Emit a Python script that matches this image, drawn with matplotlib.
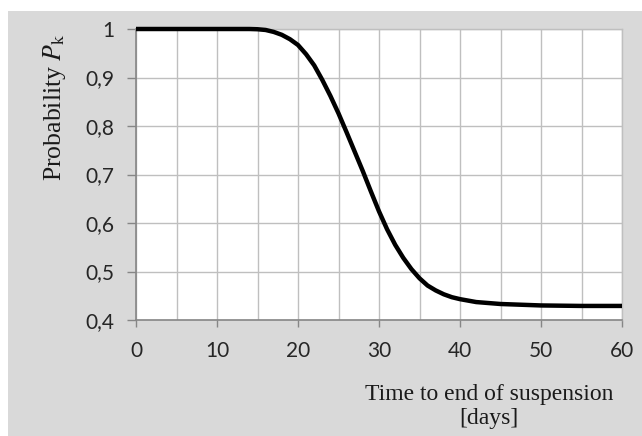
import numpy as np
import matplotlib.pyplot as plt
from matplotlib.patches import Rectangle
from matplotlib.ticker import FuncFormatter, MultipleLocator

# dane
days = [0, 5, 10, 14, 15, 16, 17, 18, 19, 20, 21, 22, 23, 24, 25, 26, 27, 28,
        29, 30, 31, 32, 33, 34, 35, 36, 37, 38, 39, 40, 42, 45, 50, 55, 60]
prob = [1.0, 1.0, 1.0, 1.0, 0.9995, 0.998, 0.994, 0.988, 0.979, 0.967, 0.948,
        0.925, 0.895, 0.862, 0.826, 0.787, 0.747, 0.707, 0.665, 0.624, 0.587,
        0.555, 0.528, 0.505, 0.486, 0.471, 0.461, 0.453, 0.447, 0.443, 0.437,
        0.433, 0.430, 0.429, 0.429]
x_ticks = [0, 10, 20, 30, 40, 50, 60]
y_ticks = [0.4, 0.5, 0.6, 0.7, 0.8, 0.9, 1.0]

plt.rcParams['mathtext.fontset'] = 'stix'

W, H = 642, 436
fig = plt.figure(figsize=(W / 100, H / 100), dpi=100)
fig.patch.set_facecolor('white')
# szare tlo
fig.patches.append(Rectangle((8 / W, 0), 1, 1 - 11 / H, transform=fig.transFigure,
                             facecolor='#d9d9d9', edgecolor='none', zorder=-10))

ax = fig.add_axes([136 / W, (H - 320) / H, 486 / W, 291 / H])
ax.set_facecolor('white')
ax.set_xlim(0, 60)
ax.set_ylim(0.4, 1.0)
ax.set_xticks(x_ticks)
ax.set_yticks(y_ticks)
ax.xaxis.set_minor_locator(MultipleLocator(5))
ax.grid(True, which='both', color='#bfbfbf', linewidth=1.0)
ax.set_axisbelow(True)
ax.tick_params(axis='x', which='minor', length=0)
ax.tick_params(axis='both', which='major', direction='out', color='#868686',
               width=1.0, labelsize=15, labelcolor='#262626')
ax.tick_params(axis='x', length=5, pad=10)
ax.tick_params(axis='y', length=6.5, pad=9)
for lab in ax.get_xticklabels() + ax.get_yticklabels():
    lab.set_family('Lato')
ax.yaxis.set_major_formatter(FuncFormatter(lambda v, p: ('%g' % round(v, 1)).replace('.', ',')))

for s in ['left', 'bottom']:
    ax.spines[s].set_color('#868686')
    ax.spines[s].set_linewidth(1.2)
for s in ['top', 'right']:
    ax.spines[s].set_color('#bfbfbf')
    ax.spines[s].set_linewidth(1.0)

ax.plot(days, prob, color='black', linewidth=3.2, clip_on=False, zorder=5,
        solid_capstyle='butt', solid_joinstyle='round')

# opisy osi
fig.text(54 / W, 1 - 33 / H, r'Probability $P_{\mathrm{k}}$', rotation=90,
         ha='center', va='top', fontsize=18.5, family='Liberation Serif',
         color='#1a1a1a')
fig.text(489 / W, 1 - 384 / H, 'Time to end of suspension\n[days]',
         ha='center', va='top', multialignment='center', fontsize=17,
         family='Liberation Serif', color='#1a1a1a', linespacing=1.2)

plt.savefig('out.png', dpi=100)
